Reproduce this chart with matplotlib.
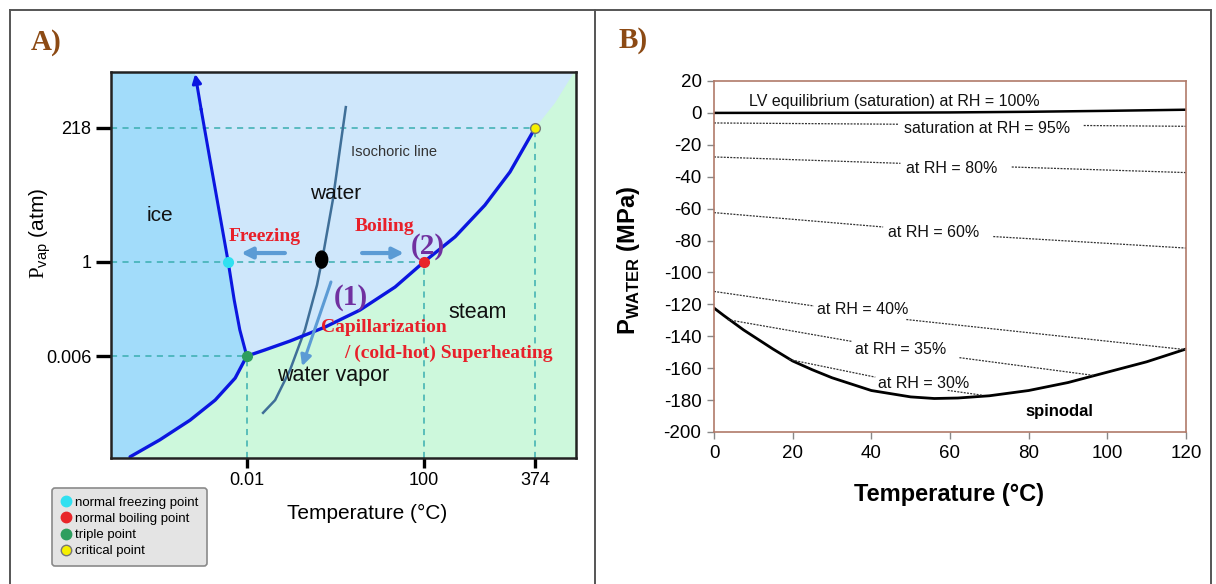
import numpy as np
import matplotlib.pyplot as plt
from matplotlib.patches import Ellipse
from matplotlib.lines import Line2D

plt.rcParams['font.family'] = ['Liberation Sans', 'DejaVu Sans']
plt.rcParams['axes.unicode_minus'] = False
plt.rcParams['mathtext.fontset'] = 'custom'
plt.rcParams['mathtext.rm'] = 'Liberation Serif'
plt.rcParams['mathtext.sf'] = 'Liberation Sans'
plt.rcParams['mathtext.bf'] = 'Liberation Sans:bold'

# ---- A) schematic phase diagram (not to scale, axis-position units 0-100)
temp_ticks = [29.2, 67.3, 91.2]
temp_labels = ['0.01', '100', '374']
pvap_ticks = [26.4, 50.8, 85.5]
pvap_labels = ['0.006', '1', '218']

sublim_x = [4.1, 10.5, 17.0, 22.4, 26.7, 29.2]
sublim_y = [0.3, 4.7, 9.8, 15.0, 20.7, 26.4]
fusion_x = [29.2, 27.7, 26.5, 25.2, 23.4, 21.3, 19.4, 18.1]
fusion_y = [26.4, 33.2, 40.9, 50.8, 63.0, 77.2, 90.2, 99.5]
vapor_x = [29.2, 33.1, 38.5, 46.0, 53.5, 61.1, 67.3, 74.0, 80.4, 85.8, 91.2]
vapor_y = [26.4, 28.0, 30.3, 33.9, 38.3, 44.3, 50.8, 57.3, 65.5, 74.1, 85.5]
super_x = [91.2, 95.5, 99.6]   # soft boundary above the critical point
super_y = [85.5, 92.0, 100.0]
isochor_x = [50.5, 49.2, 47.7, 45.6, 44.3, 41.7, 38.5, 35.3, 32.7]
isochor_y = [90.9, 79.8, 66.8, 52.6, 44.8, 33.2, 22.8, 15.0, 11.7]

point_names = ['normal freezing point', 'normal boiling point', 'triple point', 'critical point']
point_x = [25.2, 67.3, 29.2, 91.2]
point_y = [50.8, 50.8, 26.4, 85.5]
point_colors = ['#30e0f0', '#e8262a', '#2e9e5e', '#f6f000']

# ---- B) water pressure vs temperature
spin_t = [0, 2.5, 5, 7.5, 10, 15, 20, 25, 30, 40, 50, 56, 62, 70, 80, 90, 100, 110, 120]
spin_p = [-122.3, -127, -131.5, -136, -140, -148, -155.5, -161, -166, -174, -178, -179,
          -178.7, -177.3, -174, -169, -162.5, -156, -148]
sat_t = [0, 40, 60, 80, 100, 120]
sat_p = [0, 0.1, 0.3, 0.7, 1.3, 2.0]
nan = np.nan
rh_lines = {
    '95': ([0, 47, nan, 94, 120], [-6.3, -7.1, nan, -7.9, -8.4]),
    '80': ([0, 47.4, nan, 75.7, 120], [-27.6, -31.6, nan, -33.9, -37.4]),
    '60': ([0, 43, nan, 71, 120], [-62.5, -71.5, nan, -77.5, -84.7]),
    '40': ([0, 25.4, nan, 48.9, 120], [-111.9, -121, nan, -129.5, -148.4]),
    '35': ([3.5, 35, nan, 62.4, 96.4], [-129.6, -143.2, nan, -153.4, -164.5]),
    '30': ([19, 41, nan, 59.4, 68.4], [-154.5, -165.6, nan, -173.9, -177.0]),
}
rh_text = {
    '95': ('saturation at RH = 95%', 69.4, -9.8),
    '80': ('at RH = 80%', 60.4, -34.9),
    '60': ('at RH = 60%', 55.9, -75.0),
    '40': ('at RH = 40%', 37.8, -123.3),
    '35': ('at RH = 35%', 47.4, -148.4),
    '30': ('at RH = 30%', 53.4, -169.3),
}

W, H = 1216, 584
fig = plt.figure(figsize=(W / 100, H / 100), dpi=100)

# outer frame and divider
frame = '#555555'
for xs, ys in [([9.5, 1211], [574.5, 574.5]), ([9.5, 9.5], [0, 574.5]),
               ([595, 595], [0, 574.5]), ([1211, 1211], [0, 574.5])]:
    fig.add_artist(Line2D([x / W for x in xs], [y / H for y in ys],
                          color=frame, lw=1.4, transform=fig.transFigure))

fig.text(46 / W, 1 - 43 / H, 'A)', family='Liberation Serif', weight='bold',
         size=21, color='#8c4a14', ha='center', va='center')
fig.text(633 / W, 1 - 40 / H, 'B)', family='Liberation Serif', weight='bold',
         size=21, color='#8c4a14', ha='center', va='center')

# ---------------- panel A
ax = fig.add_axes([111 / W, 1 - 458 / H, 465 / W, 386 / H])
ax.set_xlim(0, 100)
ax.set_ylim(0, 100)
ax.set_facecolor('#cdf8dc')

ice_x = [0, sublim_x[0]] + sublim_x + fusion_x[1:] + [fusion_x[-1], 0]
ice_y = [0, 0] + sublim_y + fusion_y[1:] + [100, 100]
ax.fill(ice_x, ice_y, color='#a2dcfa', lw=0, zorder=1)
liq_x = fusion_x + [fusion_x[-1], 100] + super_x[::-1] + vapor_x[::-1]
liq_y = fusion_y + [100, 100] + super_y[::-1] + vapor_y[::-1]
ax.fill(liq_x, liq_y, color='#cfe7fb', lw=0, zorder=1)

dash_col = '#3aaeb0'
ax.hlines(pvap_ticks, 0, [point_x[2], point_x[1], point_x[3]], colors=dash_col,
          linestyles=(0, (4, 3.5)), lw=1.1, zorder=2)
ax.vlines(temp_ticks, 0, [point_y[2], point_y[1], point_y[3]], colors=dash_col,
          linestyles=(0, (4, 3.5)), lw=1.1, zorder=2)

blue = '#0b16e0'
ax.plot(sublim_x, sublim_y, color=blue, lw=2.4, zorder=4, solid_capstyle='round')
ax.plot(vapor_x, vapor_y, color=blue, lw=2.4, zorder=4, solid_capstyle='round')
ax.plot(fusion_x[:-1], fusion_y[:-1], color=blue, lw=2.2, zorder=4)
ax.annotate('', xy=(fusion_x[-1], fusion_y[-1]), xytext=(fusion_x[-2], fusion_y[-2]),
            arrowprops=dict(arrowstyle='-|>', color=blue, lw=2.2,
                            mutation_scale=13, shrinkA=0, shrinkB=0), zorder=4)
ax.plot(isochor_x, isochor_y, color='#3f6f98', lw=1.8, zorder=3)

arrow_col = '#5b9bd5'
for start, end in [((37.4, 53.1), (28.0, 53.1)), ((54.0, 53.1), (63.0, 53.1)),
                   ((47.3, 45.6), (41.1, 23.8))]:
    ax.annotate('', xy=end, xytext=start,
                arrowprops=dict(arrowstyle='-|>', color=arrow_col,
                                lw=3 if start[1] == end[1] else 2.2,
                                mutation_scale=16, shrinkA=0, shrinkB=0), zorder=5)

ax.add_patch(Ellipse((45.3, 51.4), 2.6, 4.4, color='black', zorder=6))
for px, py, c in zip(point_x, point_y, point_colors):
    ax.plot(px, py, 'o', ms=7, color=c, mec='#777777' if c == '#f6f000' else c,
            mew=1, zorder=7)

ax.text(10.5, 62.7, 'ice', size=15, ha='center', va='center', color='#111', zorder=8)
ax.text(48.2, 68.4, 'water', size=15, ha='center', va='center', color='#111', zorder=8)
ax.text(51.6, 79.3, 'Isochoric line', size=10.5, ha='left', va='center',
        color='#333', zorder=8)
ax.text(78.9, 37.8, 'steam', size=15.5, ha='center', va='center', color='#111', zorder=8)
ax.text(47.7, 21.5, 'water vapor', size=15.5, ha='center', va='center',
        color='#111', zorder=8)
serif = dict(family='Liberation Serif', weight='bold', zorder=8)
ax.text(25.2, 57.5, 'Freezing', size=14, color='#e8202a', ha='left', va='center', **serif)
ax.text(52.5, 60.1, 'Boiling', size=14, color='#e8202a', ha='left', va='center', **serif)
ax.text(45.2, 33.9, 'Capillarization', size=14, color='#e8202a', ha='left',
        va='center', **serif)
ax.text(50.1, 27.2, '/ (cold-hot) Superheating', size=14, color='#e8202a',
        ha='left', va='center', **serif)
ax.text(68.1, 54.7, '(2)', size=21, color='#7030a0', ha='center', va='center', **serif)
ax.text(51.6, 41.5, '(1)', size=21, color='#7030a0', ha='center', va='center', **serif)

ax.set_xticks(temp_ticks, temp_labels)
ax.set_yticks(pvap_ticks, pvap_labels)
ax.tick_params(axis='y', length=11, width=2.4, pad=3, labelsize=13)
ax.tick_params(axis='x', length=7, width=2.4, pad=3, labelsize=13)
for s in ax.spines.values():
    s.set_color('#222222')
    s.set_linewidth(1.8)
    s.set_zorder(9)

fig.text(40 / W, 1 - 233 / H, r'$\mathrm{P}_{\mathsf{vap}}$ (atm)', rotation=90,
         size=15, ha='center', va='center')
fig.text(367 / W, 1 - 513 / H, 'Temperature (°C)', size=15, ha='center', va='center')

handles = [Line2D([], [], ls='', marker='o', ms=7.5, color=c,
                  mec='#777777' if c == '#f6f000' else c) for c in point_colors]
leg = fig.legend(handles, point_names, loc='upper left',
                 bbox_to_anchor=(52 / W, 1 - 488 / H), fontsize=9.5,
                 handlelength=0.8, handletextpad=0.3, labelspacing=0.3,
                 borderpad=0.65, borderaxespad=0, fancybox=True, framealpha=1)
leg.get_frame().set_facecolor('#e4e4e4')
leg.get_frame().set_edgecolor('#8a8a8a')
leg.get_frame().set_linewidth(1.2)

# ---------------- panel B
bx = fig.add_axes([714 / W, 1 - 432 / H, 472 / W, 351 / H])
bx.set_xlim(0, 120)
bx.set_ylim(-200, 20)
bx.plot(spin_t, spin_p, color='black', lw=2)
bx.plot(sat_t, sat_p, color='black', lw=1.8)
for key, (t, p) in rh_lines.items():
    bx.plot(t, p, color='#333333', lw=0.9, ls=(0, (1.6, 1.0)))
for key, (label, tx, ty) in rh_text.items():
    bx.text(tx, ty, label, size=11.5, ha='center', va='center', color='#111')
bx.text(45.9, 7.3, 'LV equilibrium (saturation) at RH = 100%', size=11.5,
        ha='center', va='center', color='#111')
bx.text(87.9, -187, 'spinodal', size=12, weight='bold', ha='center', va='center')

bx.set_xticks(range(0, 121, 20))
bx.set_yticks(range(-200, 21, 20))
bx.tick_params(length=5, width=1, color='#888888', labelsize=13.5, pad=4)
for s in bx.spines.values():
    s.set_color('#b07a6a')
    s.set_linewidth(1.2)

fig.text(628 / W, 1 - 260 / H, r'$\mathbf{P}_{\mathbf{WATER}}$ (MPa)', rotation=90,
         size=17, weight='bold', ha='center', va='center')
fig.text(949 / W, 1 - 495 / H, 'Temperature (°C)', size=17, weight='bold',
         ha='center', va='center')

fig.savefig('out.png', dpi=100)
